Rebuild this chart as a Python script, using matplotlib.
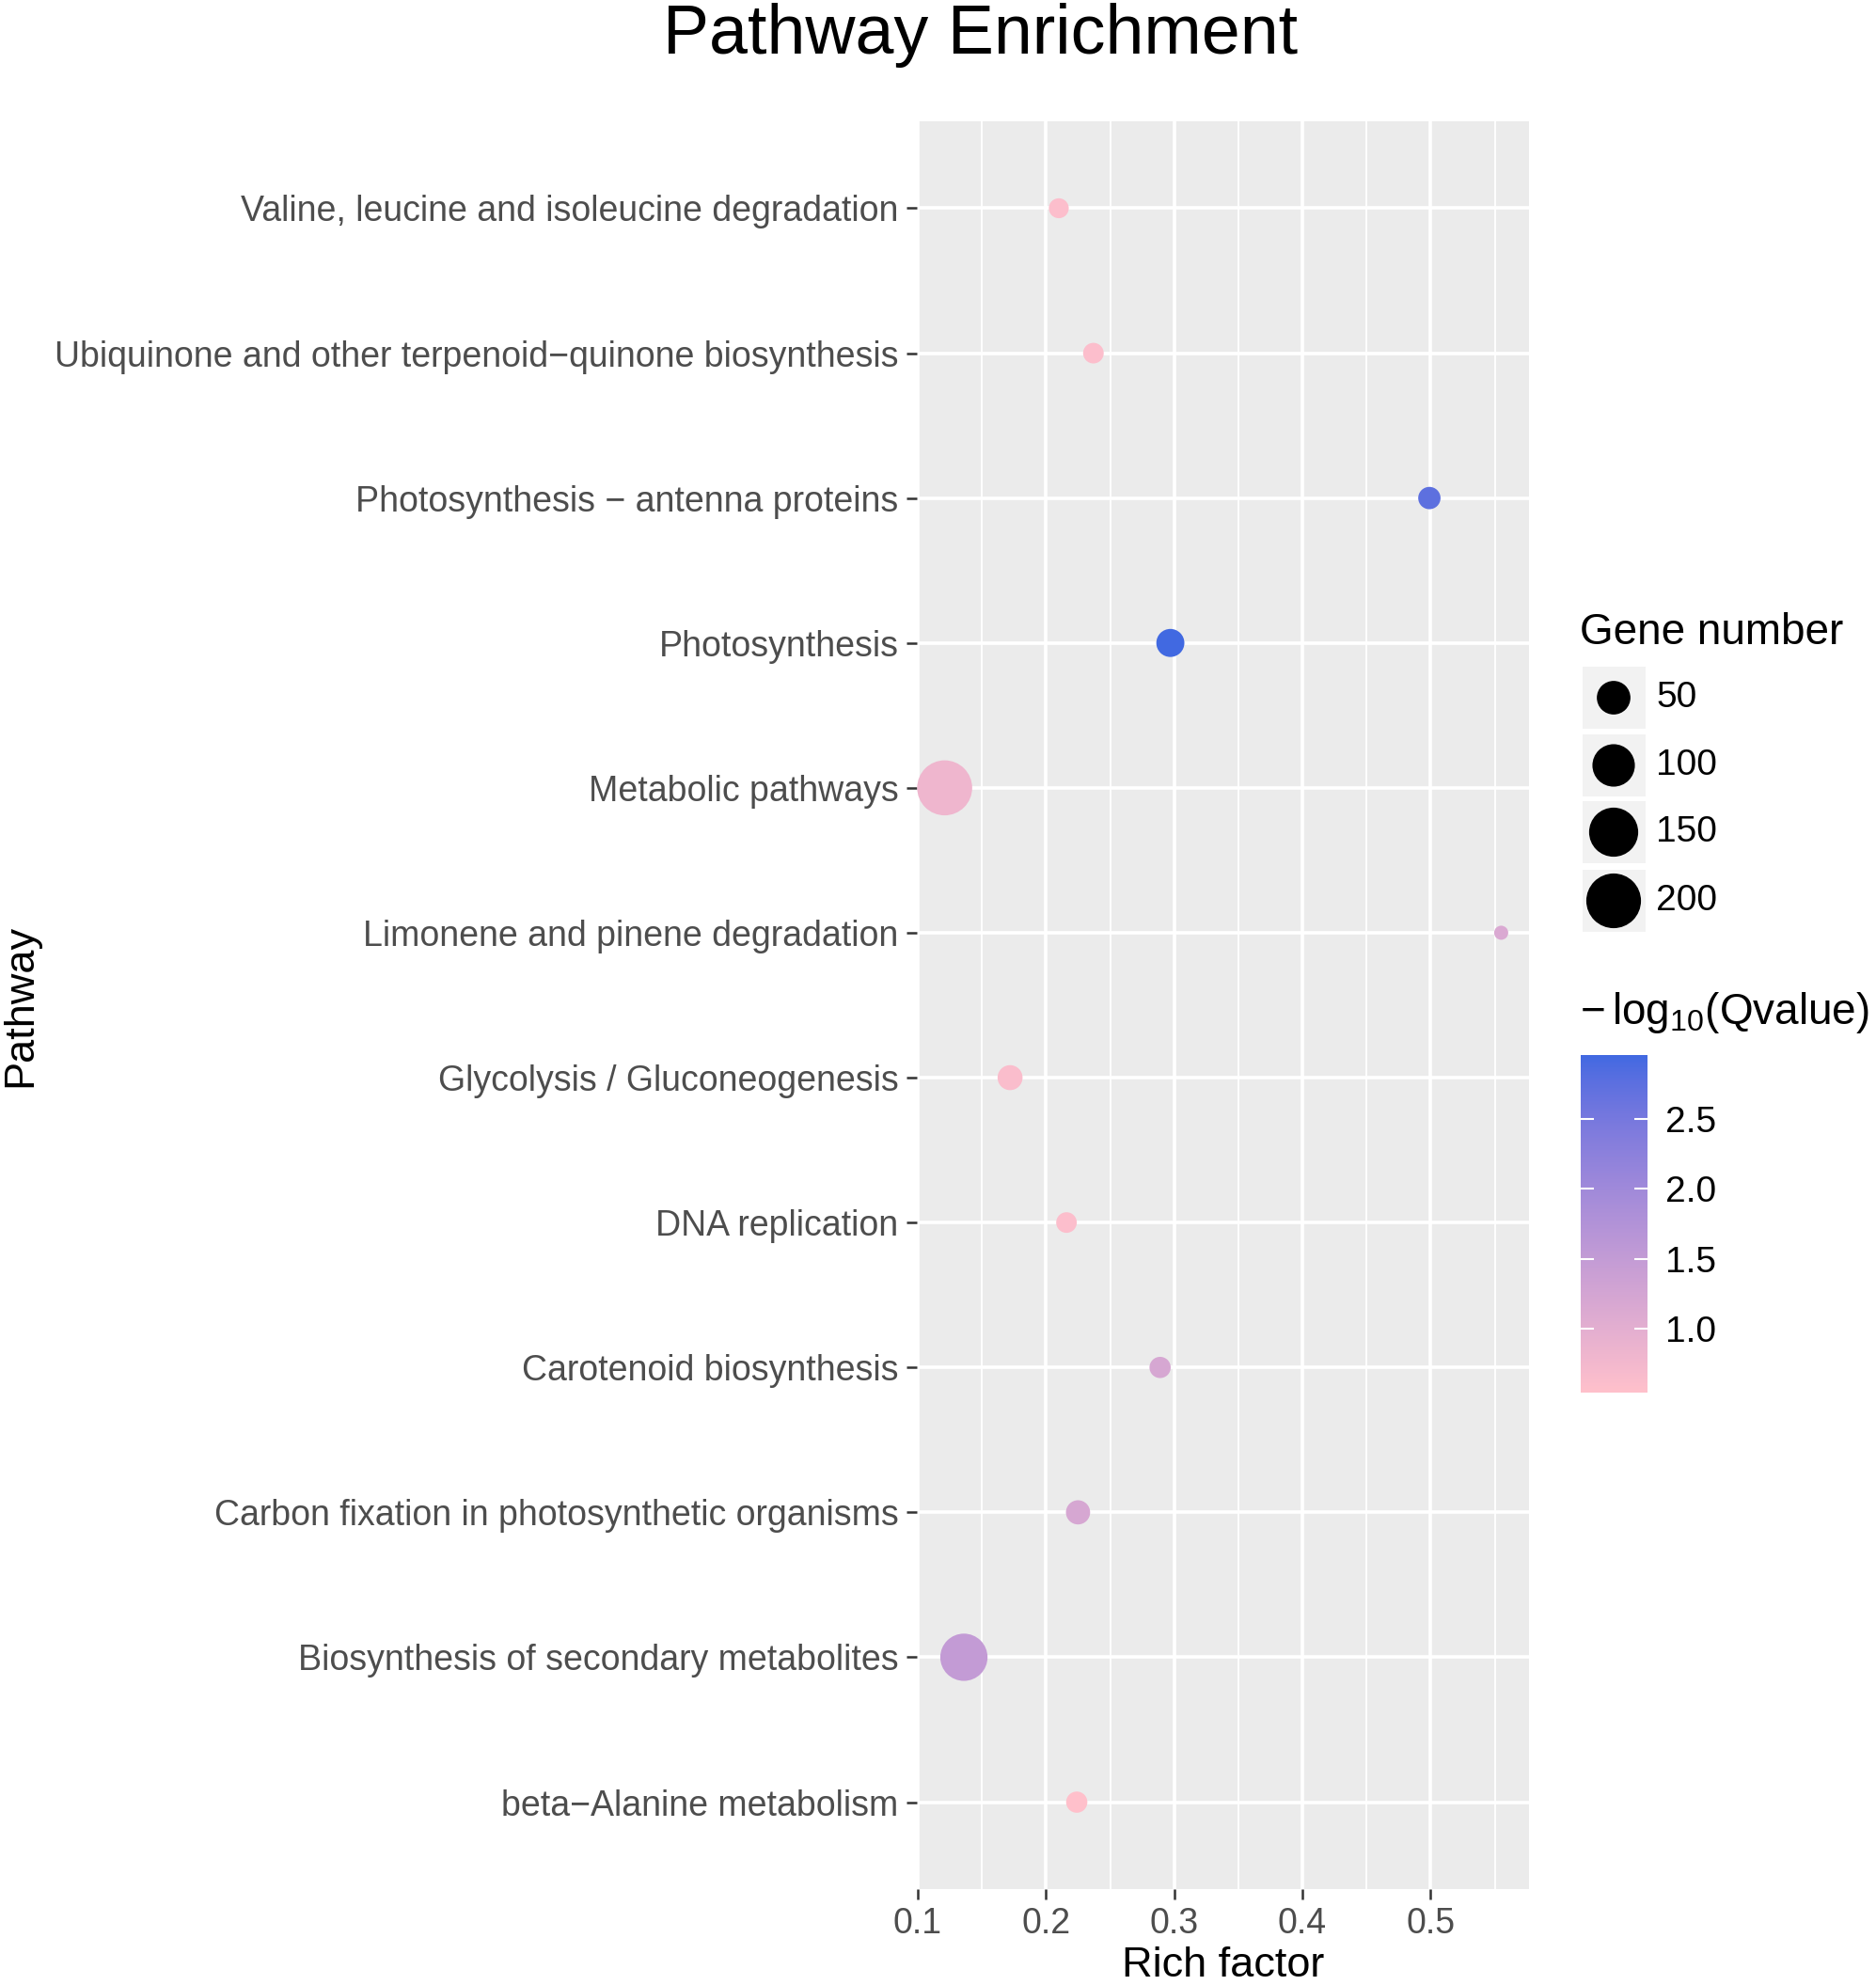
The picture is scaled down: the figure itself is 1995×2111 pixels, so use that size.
import numpy as np
import matplotlib
matplotlib.use("Agg")
import matplotlib.pyplot as plt
from matplotlib.colors import LinearSegmentedColormap, Normalize, to_rgb
from matplotlib.cm import ScalarMappable
from matplotlib.patches import Rectangle

plt.rcParams["font.family"] = ["Liberation Sans", "DejaVu Sans"]
plt.rcParams["mathtext.fontset"] = "custom"
plt.rcParams["mathtext.rm"] = "Liberation Sans"

# pathways listed bottom -> top (alphabetical, as ggplot orders the factor)
pathways = [
    "beta\u2212Alanine metabolism",
    "Biosynthesis of secondary metabolites",
    "Carbon fixation in photosynthetic organisms",
    "Carotenoid biosynthesis",
    "DNA replication",
    "Glycolysis / Gluconeogenesis",
    "Limonene and pinene degradation",
    "Metabolic pathways",
    "Photosynthesis",
    "Photosynthesis \u2212 antenna proteins",
    "Ubiquinone and other terpenoid\u2212quinone biosynthesis",
    "Valine, leucine and isoleucine degradation",
]
rich_factor = [0.224, 0.136, 0.225, 0.289, 0.216, 0.172, 0.555, 0.121, 0.297, 0.499, 0.237, 0.210]
gene_number = [11, 135, 17, 11, 10, 19, 5, 203, 28, 13, 10, 9]
neg_log_q = [0.54, 1.50, 1.20, 1.20, 0.60, 0.62, 1.15, 0.80, 2.96, 2.75, 0.60, 0.60]
size_breaks = [50, 100, 150, 200]
color_breaks = [1.0, 1.5, 2.0, 2.5]

W, H = 1995, 2111


# ggplot-style gradient (pink -> royalblue) interpolated in CIELAB
_M = np.array([[0.4124, 0.3576, 0.1805], [0.2126, 0.7152, 0.0722], [0.0193, 0.1192, 0.9505]])
_WP = np.array([0.95047, 1.0, 1.08883])


def srgb_to_lab(c):
    c = np.asarray(c, float)
    lin = np.where(c <= 0.04045, c / 12.92, ((c + 0.055) / 1.055) ** 2.4)
    xyz = _M @ lin / _WP
    f = np.where(xyz > 0.008856, np.cbrt(xyz), 7.787 * xyz + 16 / 116)
    return np.array([116 * f[1] - 16, 500 * (f[0] - f[1]), 200 * (f[1] - f[2])])


def lab_to_srgb(lab):
    L, a, b = lab
    fy = (L + 16) / 116
    f = np.array([fy + a / 500, fy, fy - b / 200])
    xyz = np.where(f ** 3 > 0.008856, f ** 3, (f - 16 / 116) / 7.787) * _WP
    lin = np.linalg.solve(_M, xyz)
    lin = np.clip(lin, 0, None)
    c = np.where(lin <= 0.0031308, 12.92 * lin, 1.055 * lin ** (1 / 2.4) - 0.055)
    return np.clip(c, 0, 1)


lo_lab, hi_lab = srgb_to_lab(to_rgb("pink")), srgb_to_lab(to_rgb("royalblue"))
ramp = [lab_to_srgb(lo_lab + t * (hi_lab - lo_lab)) for t in np.linspace(0, 1, 64)]
cmap = LinearSegmentedColormap.from_list("pink_blue", ramp)
norm = Normalize(min(neg_log_q), max(neg_log_q))

# size scale (area), diameters in pixels
g_min, g_max = min(gene_number), max(gene_number)
D_LO, D_HI = 15.0, 58.5


def marker_area(n):
    frac = (np.asarray(n, float) - g_min) / (g_max - g_min)
    d_px = D_LO + (D_HI - D_LO) * np.sqrt(np.clip(frac, 0, 1))
    return (d_px * 0.72) ** 2


fig = plt.figure(figsize=(W / 100, H / 100), dpi=100)
ax = fig.add_axes([975 / W, 1 - 2009 / H, 651 / W, 1880 / H])
ax.set_facecolor("#EBEBEB")
for s in ax.spines.values():
    s.set_visible(False)

ypos = np.arange(len(pathways))
ax.scatter(rich_factor, ypos, s=marker_area(gene_number), c=neg_log_q, cmap=cmap, norm=norm,
           linewidths=0, zorder=3)

xr = max(rich_factor) - min(rich_factor)
ax.set_xlim(min(rich_factor) - 0.05 * xr, max(rich_factor) + 0.05 * xr)
ax.set_ylim(-0.6, len(pathways) - 0.4)
ax.set_xticks([0.1, 0.2, 0.3, 0.4, 0.5])
ax.set_xticks([0.15, 0.25, 0.35, 0.45, 0.55], minor=True)
ax.set_yticks(ypos)
ax.set_yticklabels(pathways)
ax.set_axisbelow(True)
ax.grid(which="major", color="white", linewidth=2.6)
ax.grid(which="minor", axis="x", color="white", linewidth=1.3)
ax.tick_params(which="major", length=8, width=1.8, color="#333333", labelsize=27,
               labelcolor="#4D4D4D", pad=6)
ax.tick_params(which="minor", length=0)

ax.set_xlabel("Rich factor", fontsize=32.5)
ax.xaxis.set_label_coords(0.5, -82 / 1880)
ax.xaxis.label.set_va("center")
ax.set_ylabel("Pathway", fontsize=32.5)
ax.yaxis.set_label_coords((22 - 975) / 651, 0.5)
ax.yaxis.label.set_va("center")

fig.text(1043 / W, 1 - 57 / H, "Pathway Enrichment", fontsize=53, ha="center", va="baseline")

# size legend
lax = fig.add_axes([0, 0, 1, 1])
lax.set_xlim(0, W)
lax.set_ylim(H, 0)
lax.axis("off")
lax.text(1680, 673, "Gene number", fontsize=33, va="center")
key_y = [742, 814, 885, 958]
for yk, br in zip(key_y, size_breaks):
    lax.add_patch(Rectangle((1683, yk - 33), 67, 66, color="#F2F2F2", lw=0))
    lax.text(1761, yk, str(br), fontsize=28, va="center")
lax.scatter([1716] * len(size_breaks), key_y, s=marker_area(size_breaks), color="black", linewidths=0)

# colour legend
fig.text(1680 / W, 1 - 1077 / H, r"$\mathregular{{-}\,log_{10}}$(Qvalue)", fontsize=33, va="center")
cax = fig.add_axes([1681 / W, 1 - 1481 / H, 71 / W, 359 / H])
cb = fig.colorbar(ScalarMappable(norm=norm, cmap=cmap), cax=cax)
cb.outline.set_visible(False)
cb.set_ticks(color_breaks)
cb.set_ticklabels([f"{v:.1f}" for v in color_breaks])
cax.tick_params(length=0, labelsize=28, pad=14)
cax.hlines(color_breaks, 0, 0.2, transform=cax.get_yaxis_transform(), colors="white", lw=1.5)
cax.hlines(color_breaks, 0.8, 1, transform=cax.get_yaxis_transform(), colors="white", lw=1.5)

fig.savefig("out.png", dpi=100)
